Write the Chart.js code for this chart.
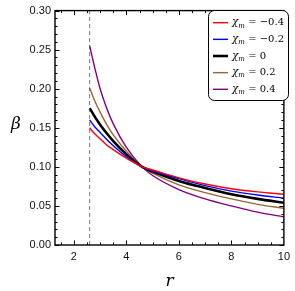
<!DOCTYPE html>
<html><head><meta charset="utf-8">
<script src="https://cdn.jsdelivr.net/npm/chart.js@4/dist/chart.umd.min.js"></script>
<style>html,body{margin:0;padding:0;background:#fff}#wrap{width:295px;height:291px;position:relative}</style>
</head><body><div id="wrap"><canvas id="c" width="295" height="291"></canvas></div>
<script>
const rVals = [2.6, 2.8, 3.0, 3.25, 3.5, 4.0, 4.6, 5, 6, 7, 8, 9, 10];
const betaM04 = [0.150, 0.142, 0.136, 0.128, 0.122, 0.111, 0.100, 0.096, 0.086, 0.078, 0.072, 0.068, 0.065];
const betaM02 = [0.160, 0.151, 0.144, 0.135, 0.127, 0.113, 0.100, 0.095, 0.085, 0.076, 0.069, 0.064, 0.060];
const beta0   = [0.175, 0.164, 0.154, 0.143, 0.133, 0.116, 0.100, 0.094, 0.082, 0.073, 0.065, 0.059, 0.054];
const betaP02 = [0.201, 0.184, 0.170, 0.154, 0.141, 0.120, 0.100, 0.092, 0.077, 0.067, 0.059, 0.052, 0.047];
const betaP04 = [0.255, 0.226, 0.200, 0.175, 0.155, 0.125, 0.100, 0.089, 0.071, 0.059, 0.050, 0.042, 0.036];
const chiLabels = ['\u22120.4', '\u22120.2', '0', '0.2', '0.4'];
const rHorizon = 2.6;
const xTicks = [2, 4, 6, 8, 10];
const yTicks = [0, 0.05, 0.10, 0.15, 0.20, 0.25, 0.30];

const colors = ['#ff0000', '#0000ff', '#000000', '#996633', '#800080'];
const widths = [1.4, 1.4, 2.6, 1.4, 1.4];
const series = [betaM04, betaM02, beta0, betaP02, betaP04];

const datasets = series.map((s, i) => ({
  label: 'chi=' + chiLabels[i],
  data: rVals.map((r, j) => ({x: r, y: s[j]})),
  borderColor: colors[i], borderWidth: widths[i], pointRadius: 0,
  showLine: true, fill: false, cubicInterpolationMode: 'monotone'
}));
datasets.unshift({
  label: 'horizon',
  data: [{x: rHorizon, y: 0}, {x: rHorizon, y: 0.30}],
  borderColor: '#555', borderWidth: 0.8, borderDash: [4, 3], pointRadius: 0, showLine: true
});

const frame = {
  id: 'frame',
  afterDraw(chart) {
    const ctx = chart.ctx, a = chart.chartArea;
    const xs = chart.scales.x, ys = chart.scales.y;
    ctx.save();
    ctx.strokeStyle = '#000'; ctx.lineWidth = 1.4;
    ctx.strokeRect(a.left, a.top, a.right - a.left, a.bottom - a.top);
    ctx.lineWidth = 1;
    ctx.beginPath();
    for (let k = 3; k <= 20; k++) {
      const v = k * 0.5; const p = Math.round(xs.getPixelForValue(v)) + 0.5;
      if (p < a.left || p > a.right) continue;
      const len = (k % 4 === 0) ? 4.5 : 2.5;
      ctx.moveTo(p, a.bottom); ctx.lineTo(p, a.bottom - len);
      ctx.moveTo(p, a.top); ctx.lineTo(p, a.top + len);
    }
    for (let k = 0; k <= 30; k++) {
      const v = k * 0.01; const p = Math.round(ys.getPixelForValue(v)) + 0.5;
      const len = (k % 5 === 0) ? 4.5 : 2.5;
      ctx.moveTo(a.left, p); ctx.lineTo(a.left + len, p);
      ctx.moveTo(a.right, p); ctx.lineTo(a.right - len, p);
    }
    ctx.stroke();
    // axis titles
    ctx.fillStyle = '#000';
    ctx.font = 'italic 17px "DejaVu Serif"';
    ctx.textAlign = 'center'; ctx.textBaseline = 'middle';
    ctx.fillText('\u03b2', 16, 125);
    ctx.fillText('r', (a.left + a.right) / 2, 282);
    // legend
    const bx = 208, by = 10, bw = 80, bh = 90, rr = 6;
    ctx.fillStyle = '#fff';
    ctx.beginPath();
    ctx.roundRect(bx + 0.5, by + 0.5, bw, bh, rr);
    ctx.fill();
    ctx.strokeStyle = '#000'; ctx.lineWidth = 1; ctx.stroke();
    for (let i = 0; i < 5; i++) {
      const y = by + 12.7 + i * 16.65;
      ctx.strokeStyle = colors[i]; ctx.lineWidth = widths[i];
      ctx.beginPath(); ctx.moveTo(213, y); ctx.lineTo(228, y); ctx.stroke();
      ctx.fillStyle = '#000'; ctx.textAlign = 'left'; ctx.textBaseline = 'middle';
      ctx.font = 'italic 10.5px "DejaVu Serif"';
      ctx.fillText('\u03c7', 232, y);
      const w1 = ctx.measureText('\u03c7').width;
      ctx.font = 'italic 7px "DejaVu Serif"';
      ctx.fillText('m', 232 + w1, y + 3);
      const w2 = ctx.measureText('m').width;
      ctx.font = '10px "DejaVu Serif"';
      ctx.fillText(' = ' + chiLabels[i], 232 + w1 + w2, y);
    }
    ctx.restore();
  }
};

new Chart(document.getElementById('c'), {
  type: 'scatter',
  data: {datasets},
  options: {
    responsive: false, animation: false, devicePixelRatio: 1,
    layout: {padding: {top: 5, right: 6, left: 0, bottom: 0}},
    plugins: {legend: {display: false}, tooltip: {enabled: false}},
    scales: {
      x: {
        type: 'linear', min: 1.28, max: 10,
        afterBuildTicks: s => { s.ticks = xTicks.map(v => ({value: v})); },
        afterFit: s => { s.height = 46; },
        grid: {display: false, drawTicks: false}, border: {display: false},
        ticks: {padding: 5, color: '#111', font: {family: 'Liberation Sans', size: 11}, callback: v => String(v)}
      },
      y: {
        type: 'linear', min: 0, max: 0.30,
        afterBuildTicks: s => { s.ticks = yTicks.map(v => ({value: v})); },
        afterFit: s => { s.width = 55; },
        grid: {display: false, drawTicks: false}, border: {display: false},
        ticks: {padding: 4, color: '#111', font: {family: 'Liberation Sans', size: 11}, callback: v => v.toFixed(2)}
      }
    }
  },
  plugins: [frame]
});
</script></body></html>
